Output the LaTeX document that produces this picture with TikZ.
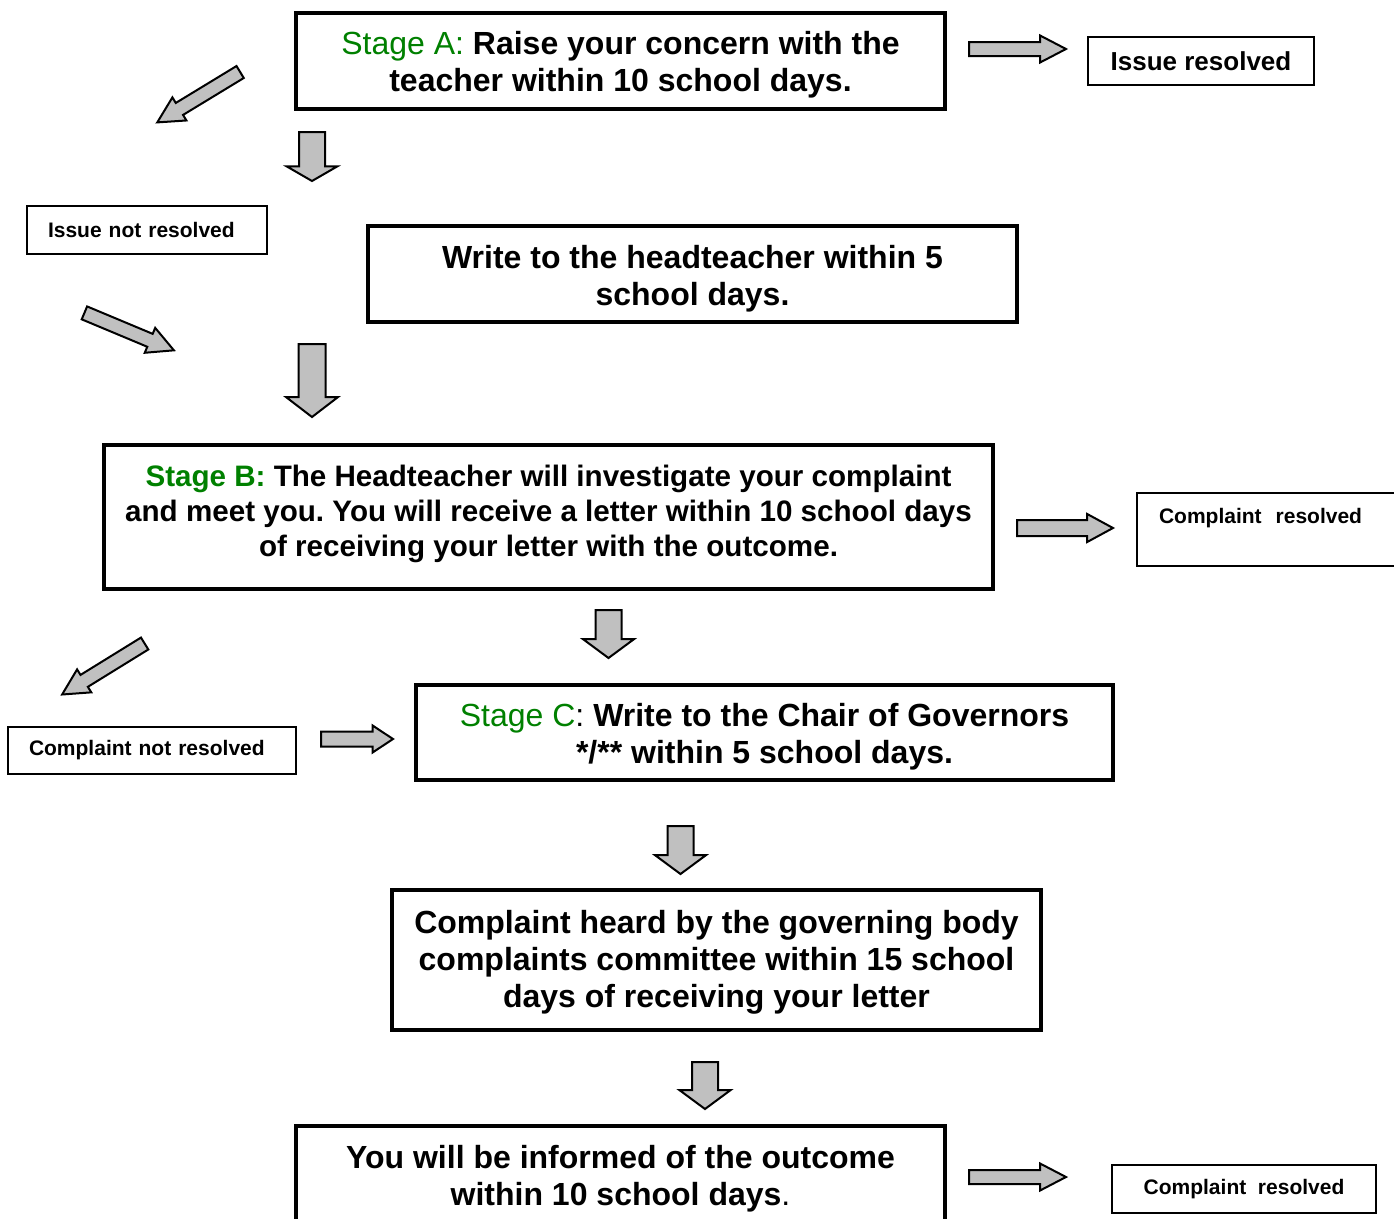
\documentclass[tikz,border=0pt]{standalone}
\usepackage{fontspec}
\setmainfont{Liberation Sans}
\frenchspacing
\usetikzlibrary{shapes.arrows}
\definecolor{stagegreen}{RGB}{0,128,0}
\definecolor{arrowgray}{RGB}{192,192,192}
\tikzset{
  mainbox/.style={draw, line width=3.5pt, inner sep=0pt},
  maintext/.style={inner sep=0pt, align=center,
    font=\fontsize{32}{37}\selectfont\bfseries},
  smallbox/.style={draw, line width=2pt, inner sep=0pt,
    font=\fontsize{21}{25}\selectfont\bfseries},
  barrow/.style n args={4}{single arrow, draw, line width=2pt, fill=arrowgray,
    inner xsep=0pt, inner ysep=#2pt, anchor=tail, single arrow head indent=0pt,
    minimum height=#1pt, minimum width=0pt,
    single arrow head extend=#3pt, single arrow tip angle=#4},
}
\begin{document}
\begin{tikzpicture}[x=1pt,y=-1pt]
\useasboundingbox (0,0) rectangle (1394,1218);

% ---- boxes ----
\node[mainbox, minimum width=649pt, minimum height=96pt] (sa) at (620.5,61) {};
\node[maintext] (sat) at (620.5,65)
  {{\mdseries\color{stagegreen}Stage A:} Raise your concern with the\\teacher within 10 school days.};
\node[smallbox, minimum width=226pt, minimum height=48pt,
  font=\fontsize{26}{30}\selectfont\bfseries] (ir) at (1201,61) {Issue resolved};
\node[smallbox, minimum height=48pt, inner xsep=21pt, text width=198pt, align=left]
  (inr) at (147,230) {Issue not resolved};
\node[mainbox, minimum width=649pt, minimum height=96pt] (wh) at (692.5,274) {};
\node[maintext] (wht) at (692.5,278.5)
  {Write to the headteacher within 5\\school days.};
\node[mainbox, minimum width=889pt, minimum height=144pt] (sb) at (548.5,517) {};
\node[maintext, font=\fontsize{29.6}{35}\selectfont\bfseries] (sbt) at (548.5,514)
  {{\color{stagegreen}Stage B:} The Headteacher will investigate your complaint\\
   and meet you. You will receive a letter within 10 school days\\
   of receiving your letter with the outcome.};
\node[smallbox, anchor=north west, inner xsep=22pt, inner ysep=14.7pt, text height=15.3pt,
  text depth=27.8pt, text width=220pt, align=left] (crb) at (1136,492) {Complaint~~resolved};
\node[smallbox, minimum height=47pt, inner xsep=21pt, text width=246pt, align=left]
  (cnr) at (152,750.5) {Complaint not resolved};
\node[mainbox, minimum width=697pt, minimum height=95pt] (sc) at (764.5,732.5) {};
\node[maintext] (sct) at (764.5,737)
  {{\mdseries\color{stagegreen}Stage C}{\mdseries:} Write to the Chair of Governors\\*/** within 5 school days.};
\node[mainbox, minimum width=649pt, minimum height=140pt] (ch) at (716.5,960) {};
\node[maintext] (cht) at (716.5,962)
  {Complaint heard by the governing body\\complaints committee within 15 school\\days of receiving your letter};
\node[mainbox, minimum width=649pt, minimum height=97pt] (yo) at (620.5,1174.5) {};
\node[maintext] (yot) at (620.5,1178.5)
  {You will be informed of the outcome\\within 10 school days{\mdseries.}};
\node[smallbox, minimum width=264pt, minimum height=48pt] (crd) at (1244,1189) {Complaint~~resolved};

% ---- block arrows ----
\node[barrow={97}{6}{6.5}{55}] (ra) at (968,49) {};
\node[barrow={96}{7}{6}{57}] (rb) at (1016,528) {};
\node[barrow={72}{6.5}{6}{67}] (rc) at (320,739) {};
\node[barrow={97}{6}{6.5}{55}] (rd) at (968,1177) {};

\node[barrow={49}{12}{12.5}{120}, rotate=-90] (d1) at (312,131) {};
\node[barrow={73}{12.5}{12.5}{105}, rotate=-90] (d2) at (312,343) {};
\node[barrow={48}{12}{12.5}{107}, rotate=-90] (d3) at (608.5,609) {};
\node[barrow={48}{12}{12.5}{107}, rotate=-90] (d4) at (680.5,825) {};
\node[barrow={47}{12}{12.5}{107}, rotate=-90] (d5) at (705,1061) {};

\node[barrow={97}{6}{6.5}{55}, rotate=211.3] (g1) at (241,71.5) {};
\node[barrow={97}{6}{6.5}{55}, rotate=-22.7] (g2) at (83.5,312.5) {};
\node[barrow={97}{6}{6.5}{55}, rotate=211.7] (g3) at (145.5,643) {};
\end{tikzpicture}
\end{document}
